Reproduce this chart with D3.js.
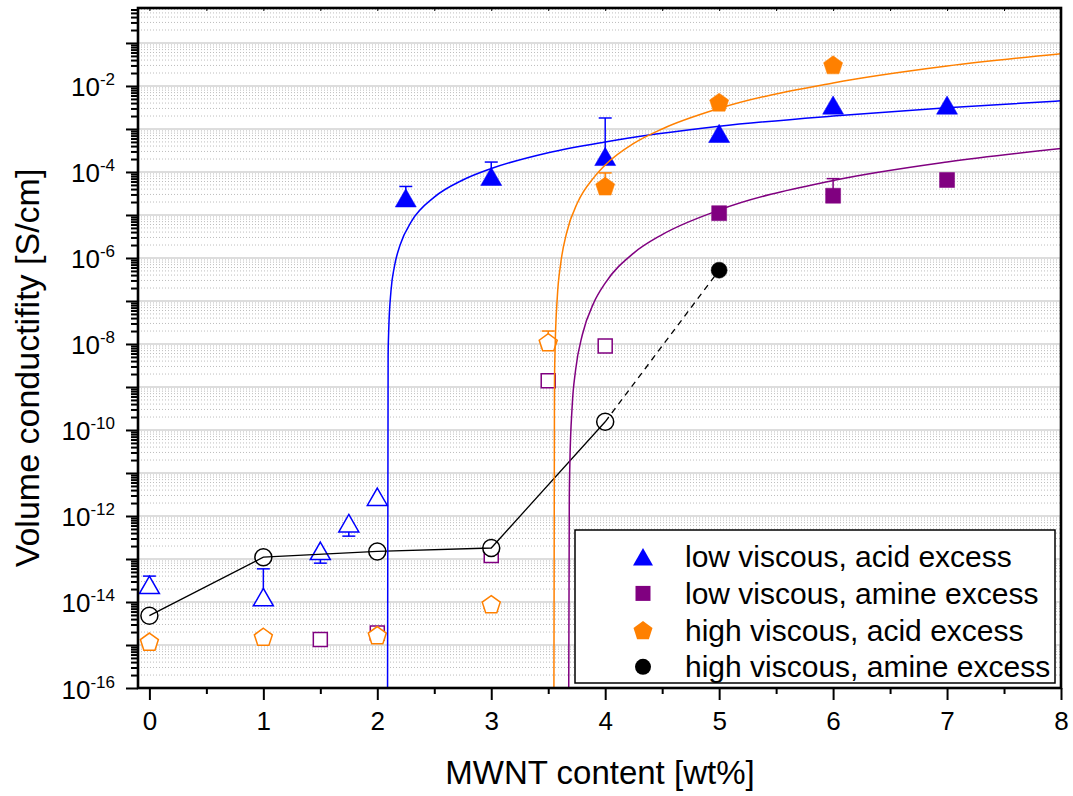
<!DOCTYPE html>
<html>
<head>
<meta charset="utf-8">
<script src="https://cdn.jsdelivr.net/npm/d3@7"></script>
<style>
  body { margin: 0; background: #fff; }
  svg { display: block; font-family: Arial, "Liberation Sans", sans-serif; }
</style>
</head>
<body>
<div id="chart"></div>
<script>
// ---- data ----
const xTicks = [0, 1, 2, 3, 4, 5, 6, 7, 8];
const xMinorTicks = [0.5, 1.5, 2.5, 3.5, 4.5, 5.5, 6.5, 7.5];
const yDecades = [-16, -15, -14, -13, -12, -11, -10, -9, -8, -7, -6, -5, -4, -3, -2, -1];
const yLabelDecades = [-16, -14, -12, -10, -8, -6, -4, -2];
const minorMultipliers = [2, 3, 4, 5, 6, 7, 8, 9];

const legendLabels = ['low viscous, acid excess', 'low viscous, amine excess', 'high viscous, acid excess', 'high viscous, amine excess'];

// low viscous, acid excess (triangles): above threshold filled, below open
const lvAcidX = [2.25, 3, 4, 5, 6, 7];
const lvAcidY = [2.5e-5, 7.9e-5, 2.3e-4, 7.9e-4, 3.6e-3, 3.6e-3];
const lvAcidErrHi = [4.6e-5, 1.7e-4, 1.8e-3, null, null, null];
const lvAcidLowX = [0, 1, 1.5, 1.75, 2];
const lvAcidLowY = [2.5e-14, 1.3e-14, 1.55e-13, 6.8e-13, 2.8e-12];
const lvAcidLowErrHi = [4e-14, 5.9e-14, null, null, null];
const lvAcidLowErrLo = [null, null, 8e-14, 3.4e-13, null];

// low viscous, amine excess (squares)
const lvAmineX = [5, 6, 7];
const lvAmineY = [1.1e-5, 2.8e-5, 6.5e-5];
const lvAmineErrHi = [null, 7e-5, null];
const lvAmineLowX = [1.5, 2, 3, 3.5, 4];
const lvAmineLowY = [1.35e-15, 1.9e-15, 1.2e-13, 1.4e-9, 9e-9];

// high viscous, acid excess (pentagons)
const hvAcidX = [4, 5, 6];
const hvAcidY = [4.7e-5, 4.2e-3, 3.1e-2];
const hvAcidErrHi = [9.5e-5, null, null];
const hvAcidLowX = [0, 1, 2, 3, 3.5];
const hvAcidLowY = [1.2e-15, 1.55e-15, 1.7e-15, 8.9e-15, 1.1e-8];
const hvAcidLowErrHi = [null, null, null, null, 2e-8];

// high viscous, amine excess (circles)
const hvAmineX = [5];
const hvAmineY = [5.2e-7];
const hvAmineLowX = [0, 1, 2, 3, 4];
const hvAmineLowY = [4.8e-15, 1.1e-13, 1.5e-13, 1.8e-13, 1.55e-10];

// percolation fit curves
const lvAcidFitX = [2.09, 2.095, 2.1, 2.12, 2.15, 2.2, 2.3, 2.5, 2.75, 3, 3.5, 4, 5, 6, 7, 8];
const lvAcidFitY = [1e-16, 5.2e-9, 2.0e-8, 1.7e-7, 6.3e-7, 2.0e-6, 7.1e-6, 2.6e-5, 6.5e-5, 1.2e-4, 2.8e-4, 5.0e-4, 1.15e-3, 2.0e-3, 3.1e-3, 4.5e-3];
const hvAcidFitX = [3.55, 3.555, 3.56, 3.58, 3.61, 3.66, 3.76, 3.9, 4, 4.25, 4.5, 5, 6, 7, 8];
const hvAcidFitY = [1e-16, 1.2e-9, 7.2e-9, 1.26e-7, 7.6e-7, 3.7e-6, 2.0e-5, 7.4e-5, 1.45e-4, 4.6e-4, 1.0e-3, 3.0e-3, 1.17e-2, 2.9e-2, 5.6e-2];
const lvAmineFitX = [3.68, 3.685, 3.69, 3.71, 3.74, 3.8, 3.9, 4, 4.25, 4.5, 5, 6, 7, 8];
const lvAmineFitY = [1e-16, 2.5e-12, 1.66e-11, 3.5e-10, 2.45e-9, 1.66e-8, 9.1e-8, 2.6e-7, 1.3e-6, 3.5e-6, 1.3e-5, 6.3e-5, 1.7e-4, 3.5e-4];

// ---- layout ----
const W = 1073, H = 796;
const L = 138, R = 1061, T = 8, B = 688;
const blue = '#0000ff', purple = '#800080', orange = '#ff8000', black = '#000000';

const x = d3.scaleLinear().domain([-0.1, 8]).range([L, R]);
const y = d3.scaleLog().domain([1e-16, 0.65]).range([B, T]);

const svg = d3.select('#chart').append('svg').attr('width', W).attr('height', H);

svg.append('defs').append('clipPath').attr('id', 'plotclip')
  .append('rect').attr('x', L).attr('y', T).attr('width', R - L).attr('height', B - T);

// symbols centered on their bounding box
function symbolPath(shape, size) {
  if (shape === 'tri') {
    const h = size * 0.87;
    return `M0,${-h / 2}L${size / 2},${h / 2}L${-size / 2},${h / 2}Z`;
  }
  if (shape === 'sq') {
    const s = size / 2;
    return `M${-s},${-s}H${s}V${s}H${-s}Z`;
  }
  if (shape === 'pent') {
    const r = size / 1.902, off = 0.0955 * r;
    const pts = d3.range(5).map(k => {
      const a = (-90 + k * 72) * Math.PI / 180;
      return [r * Math.cos(a), r * Math.sin(a) + off];
    });
    return 'M' + pts.map(p => p.join(',')).join('L') + 'Z';
  }
  const r = size / 2;
  return `M${r},0A${r},${r} 0 1 1 ${-r},0A${r},${r} 0 1 1 ${r},0Z`;
}

// ---- grid ----
const grid = svg.append('g');
const minorVals = [];
yDecades.forEach(e => minorMultipliers.forEach(m => {
  const v = m * Math.pow(10, e);
  if (v < 0.65) minorVals.push(v);
}));
grid.selectAll('line.minor').data(minorVals).join('line')
  .attr('x1', L).attr('x2', R).attr('y1', d => y(d)).attr('y2', d => y(d))
  .attr('stroke', '#bdbdbd').attr('stroke-width', 1).attr('stroke-dasharray', '1,2');
grid.selectAll('line.major').data(yDecades.filter(e => e > -16)).join('line')
  .attr('x1', L).attr('x2', R).attr('y1', e => y(Math.pow(10, e))).attr('y2', e => y(Math.pow(10, e)))
  .attr('stroke', '#d2d2d2').attr('stroke-width', 1.6);

// ---- black connecting line (high viscous, amine excess) ----
const plot = svg.append('g').attr('clip-path', 'url(#plotclip)');
const line = d3.line().x(d => x(d[0])).y(d => y(d[1]));
plot.append('path')
  .attr('d', line(hvAmineLowX.map((v, i) => [v, hvAmineLowY[i]])))
  .attr('fill', 'none').attr('stroke', black).attr('stroke-width', 1.3);
plot.append('path')
  .attr('d', line([[hvAmineLowX[hvAmineLowX.length - 1], hvAmineLowY[hvAmineLowY.length - 1]], [hvAmineX[0], hvAmineY[0]]]))
  .attr('fill', 'none').attr('stroke', black).attr('stroke-width', 1.3).attr('stroke-dasharray', '6,5');

// ---- markers and error bars ----
const series = [
  { color: blue, shape: 'tri', size: 20, xs: lvAcidLowX, ys: lvAcidLowY, hi: lvAcidLowErrHi, lo: lvAcidLowErrLo, open: true },
  { color: blue, shape: 'tri', size: 21, xs: lvAcidX, ys: lvAcidY, hi: lvAcidErrHi, lo: null, open: false },
  { color: purple, shape: 'sq', size: 14, xs: lvAmineLowX, ys: lvAmineLowY, hi: null, lo: null, open: true },
  { color: purple, shape: 'sq', size: 15, xs: lvAmineX, ys: lvAmineY, hi: lvAmineErrHi, lo: null, open: false },
  { color: orange, shape: 'pent', size: 18, xs: hvAcidLowX, ys: hvAcidLowY, hi: hvAcidLowErrHi, lo: null, open: true },
  { color: orange, shape: 'pent', size: 19, xs: hvAcidX, ys: hvAcidY, hi: hvAcidErrHi, lo: null, open: false },
  { color: black, shape: 'circ', size: 17, xs: hvAmineLowX, ys: hvAmineLowY, hi: null, lo: null, open: true },
  { color: black, shape: 'circ', size: 16, xs: hvAmineX, ys: hvAmineY, hi: null, lo: null, open: false }
];

const marks = svg.append('g');
series.forEach(s => {
  const g = marks.append('g');
  const pts = s.xs.map((v, i) => ({ x: v, y: s.ys[i], hi: s.hi ? s.hi[i] : null, lo: s.lo ? s.lo[i] : null }));
  ['hi', 'lo'].forEach(k => {
    const eb = pts.filter(p => p[k] != null);
    g.selectAll('line.bar-' + k).data(eb).join('line')
      .attr('x1', p => x(p.x)).attr('x2', p => x(p.x))
      .attr('y1', p => y(p.y)).attr('y2', p => y(p[k]))
      .attr('stroke', s.color).attr('stroke-width', 1.5);
    g.selectAll('line.cap-' + k).data(eb).join('line')
      .attr('x1', p => x(p.x) - 6.5).attr('x2', p => x(p.x) + 6.5)
      .attr('y1', p => y(p[k])).attr('y2', p => y(p[k]))
      .attr('stroke', s.color).attr('stroke-width', 1.5);
  });
  g.selectAll('path.mk').data(pts).join('path')
    .attr('transform', p => `translate(${x(p.x)},${y(p.y)})`)
    .attr('d', symbolPath(s.shape, s.size))
    .attr('fill', s.open ? '#fff' : s.color)
    .attr('stroke', s.color).attr('stroke-width', s.open ? 1.5 : 0.5);
});

// ---- fit curves ----
const fitLine = d3.line().x(d => x(d[0])).y(d => y(d[1])).curve(d3.curveMonotoneX);
[[lvAcidFitX, lvAcidFitY, blue], [hvAcidFitX, hvAcidFitY, orange], [lvAmineFitX, lvAmineFitY, purple]].forEach(([xs, ys, c]) => {
  plot.append('path')
    .attr('d', fitLine(xs.map((v, i) => [v, ys[i]])))
    .attr('fill', 'none').attr('stroke', c).attr('stroke-width', 1.5);
});
plot.raise();
marks.lower();
grid.lower();

// ---- legend ----
const legend = svg.append('g');
legend.append('rect').attr('x', 575).attr('y', 530).attr('width', 480).attr('height', 153)
  .attr('fill', '#fff').attr('stroke', '#000').attr('stroke-width', 1.5);
const legendShapes = [['tri', 20, blue], ['sq', 15, purple], ['pent', 19, orange], ['circ', 16, black]];
legendLabels.forEach((lab, i) => {
  const cy = 556.7 + i * 36.7;
  legend.append('path').attr('transform', `translate(643,${cy})`)
    .attr('d', symbolPath(legendShapes[i][0], legendShapes[i][1]))
    .attr('fill', legendShapes[i][2]);
  legend.append('text').attr('x', 685).attr('y', cy).attr('dy', '0.35em')
    .attr('font-size', 30).attr('fill', '#000').text(lab);
});

// ---- axes ----
const yMajor = d3.axisLeft(y).tickValues(yDecades.map(e => Math.pow(10, e))).tickSize(12).tickFormat('');
const yMinor = d3.axisLeft(y).tickValues(minorVals).tickSize(7).tickFormat('');
[yMajor, yMinor].forEach(ax => {
  const g = svg.append('g').attr('transform', `translate(${L},0)`).call(ax);
  g.select('.domain').remove();
  g.selectAll('line').attr('stroke', '#000').attr('stroke-width', 2);
});

const yLab = svg.append('g');
yLabelDecades.forEach(e => {
  const t = yLab.append('text').attr('x', 115).attr('y', y(Math.pow(10, e)) + 10.5)
    .attr('text-anchor', 'end').attr('font-size', 26).attr('fill', '#000');
  t.append('tspan').text('10');
  t.append('tspan').attr('font-size', 17).attr('dy', -11).text(e);
});

const xMajor = d3.axisBottom(x).tickValues(xTicks).tickSize(12).tickPadding(12).tickFormat(d3.format('d'));
const xMinor = d3.axisBottom(x).tickValues(xMinorTicks).tickSize(6).tickFormat('');
[xMajor, xMinor].forEach(ax => {
  const g = svg.append('g').attr('transform', `translate(0,${B})`).call(ax);
  g.select('.domain').remove();
  g.selectAll('line').attr('stroke', '#000').attr('stroke-width', 2);
  g.selectAll('text').attr('font-size', 26).attr('fill', '#000').attr('font-family', 'Arial, "Liberation Sans", sans-serif');
});
const xTop = d3.axisTop(x).tickValues(xTicks.concat(xMinorTicks)).tickSize(-3).tickFormat('');
const gTop = svg.append('g').attr('transform', `translate(0,${T})`).call(xTop);
gTop.select('.domain').remove();
gTop.selectAll('line').attr('stroke', '#000').attr('stroke-width', 1);

svg.append('rect').attr('x', L).attr('y', T).attr('width', R - L).attr('height', B - T)
  .attr('fill', 'none').attr('stroke', '#000').attr('stroke-width', 2.6);

svg.append('text').attr('transform', 'translate(39,368) rotate(-90)')
  .attr('text-anchor', 'middle').attr('font-size', 34).attr('fill', '#000')
  .text('Volume conductifity [S/cm]');
svg.append('text').attr('x', 600).attr('y', 784)
  .attr('text-anchor', 'middle').attr('font-size', 33).attr('fill', '#000')
  .text('MWNT content [wt%]');
</script>
</body>
</html>
